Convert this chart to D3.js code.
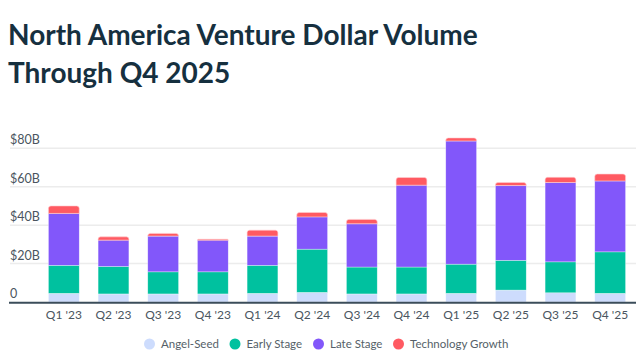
<!DOCTYPE html>
<html><head><meta charset="utf-8">
<script src="https://cdn.jsdelivr.net/npm/d3@7/dist/d3.min.js"></script>
<style>
html,body{margin:0;padding:0;background:#fff;}
svg{display:block;}
</style></head>
<body>
<svg id="chart" width="642" height="356"></svg>
<script>
const categories = ["Q1 '23","Q2 '23","Q3 '23","Q4 '23","Q1 '24","Q2 '24","Q3 '24","Q4 '24","Q1 '25","Q2 '25","Q3 '25","Q4 '25"];
const seriesNames = ["Angel-Seed","Early Stage","Late Stage","Technology Growth"];
const angelSeed = [4.5,4.2,4.2,4.2,4.5,5.0,4.2,4.2,4.5,6.2,4.8,4.5];
const earlyStage = [14.6,14.3,11.5,11.5,14.6,22.5,14.0,14.0,15.2,15.5,16.1,21.6];
const lateStage = [27.0,13.7,18.6,16.5,15.2,16.8,22.5,42.6,64.1,38.9,41.3,36.9];
const techGrowth = [3.9,1.7,1.4,0.5,3.1,2.3,2.3,4.0,1.6,1.6,2.7,3.6];
const yTicks = [0,20,40,60,80];
const yTickLabels = ["0","$20B","$40B","$60B","$80B"];
const colors = ["#cddcfd","#00c19f","#8257fa","#ff5a62"];

const svg = d3.select("#chart");
const font = "Lato, 'Open Sans', sans-serif";

// Title
const title = svg.append("text").attr("font-family", "Lato, sans-serif").attr("font-weight", 700)
  .attr("font-size", 28).attr("fill", "#16303f");
title.append("tspan").attr("x", 8).attr("y", 45).text("North America Venture Dollar Volume");
title.append("tspan").attr("x", 8).attr("y", 83).text("Through Q4 2025");

const y0 = 302, yTop = 148.3;
const y = d3.scaleLinear().domain([0,80]).range([y0, yTop]);
const x = d3.scaleBand().domain(categories).range([39, 635]).paddingInner(0.38).paddingOuter(0.19);

// gridlines
svg.append("g").selectAll("line").data(yTicks.filter(d=>d>0)).join("line")
  .attr("x1", 10).attr("x2", 636).attr("y1", d=>y(d)).attr("y2", d=>y(d))
  .attr("stroke", "#ececec").attr("stroke-width", 1.5);
svg.append("g").selectAll("text").data(yTicks).join("text")
  .attr("x", 10).attr("y", d=>y(d)-4).attr("font-family", font).attr("font-size", 12.5)
  .attr("fill", "#4a5560").text((d,i)=>yTickLabels[i]);

// stacked data
const rows = categories.map((c,i)=>({cat:c, "Angel-Seed":angelSeed[i], "Early Stage":earlyStage[i], "Late Stage":lateStage[i], "Technology Growth":techGrowth[i]}));
const stack = d3.stack().keys(seriesNames)(rows);

const bw = x.bandwidth();
stack.forEach((layer, li) => {
  const g = svg.append("g");
  layer.forEach(d => {
    const x0 = x(d.data.cat), top = y(d[1]), bot = y(d[0]);
    const h = bot - top;
    if (li === 3) {
      const r = Math.min(2.5, h);
      g.append("path").attr("d",
        `M${x0},${bot} L${x0},${top+r} Q${x0},${top} ${x0+r},${top} L${x0+bw-r},${top} Q${x0+bw},${top} ${x0+bw},${top+r} L${x0+bw},${bot} Z`)
        .attr("fill", colors[li]).attr("stroke", "#ffd0d3").attr("stroke-width", 0.6);
    } else {
      g.append("rect").attr("x", x0).attr("y", top).attr("width", bw).attr("height", h)
        .attr("fill", colors[li]).attr("stroke", "rgba(255,255,255,0.55)").attr("stroke-width", 0.6);
    }
  });
});

// x axis line
svg.append("line").attr("x1", 9).attr("x2", 636).attr("y1", 302.8).attr("y2", 302.8)
  .attr("stroke", "#3b4d5a").attr("stroke-width", 2);
const xAxis = d3.axisBottom(x).tickSize(0).tickPadding(6);
const xg = svg.append("g").attr("transform", "translate(0,304)").call(xAxis);
xg.select(".domain").remove();
xg.selectAll("text").attr("font-family", font).attr("font-size", 12).attr("fill", "#4a5560");

// legend
const legendX = [149.5, 235, 318.5, 398.5];
const lg = svg.append("g");
seriesNames.forEach((n,i)=>{
  lg.append("circle").attr("cx", legendX[i]).attr("cy", 344).attr("r", 5.5).attr("fill", colors[i]);
  lg.append("text").attr("x", legendX[i]+11.5).attr("y", 348).attr("font-family", font)
    .attr("font-size", 11.5).attr("fill", "#555f68").text(n);
});
</script>
</body></html>
